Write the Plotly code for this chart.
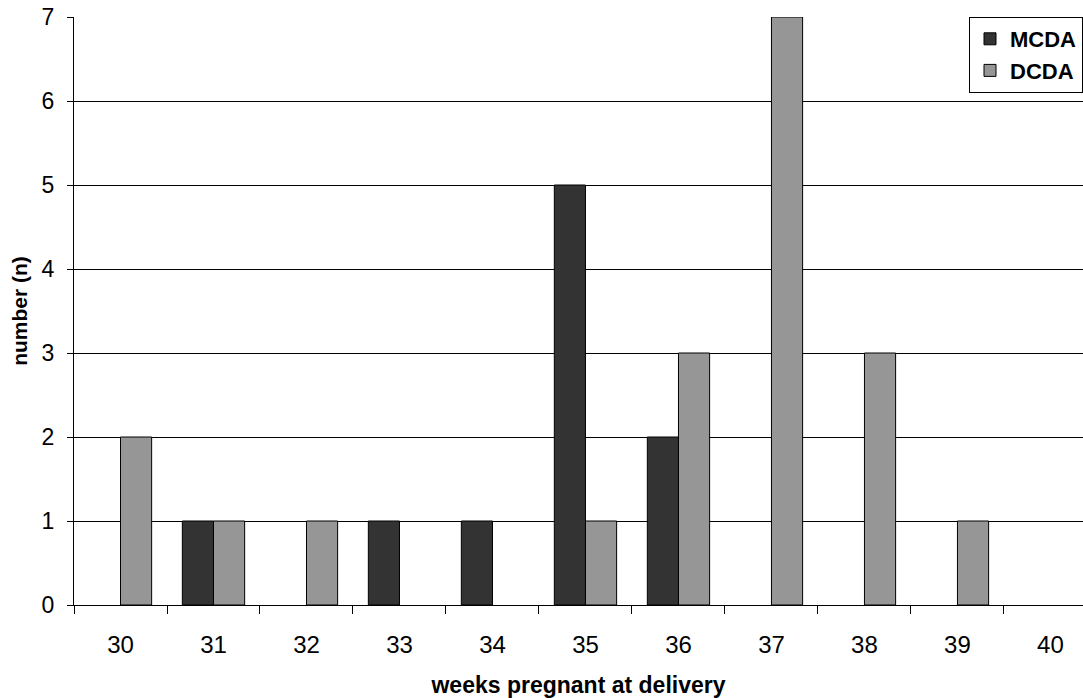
import plotly.graph_objects as go

weeks = ["30", "31", "32", "33", "34", "35", "36", "37", "38", "39", "40"]
mcda = [0, 1, 0, 1, 1, 5, 2, 0, 0, 0, 0]
dcda = [2, 1, 1, 0, 0, 1, 3, 7, 3, 1, 0]

def nz(vals):
    return [v if v != 0 else None for v in vals]

fig = go.Figure()
fig.add_trace(go.Bar(name="MCDA", x=weeks, y=nz(mcda),
                     marker=dict(color="#333333", line=dict(color="#000000", width=1))))
fig.add_trace(go.Bar(name="DCDA", x=weeks, y=nz(dcda),
                     marker=dict(color="#969696", line=dict(color="#000000", width=1))))

font = "Liberation Sans, Arial, sans-serif"
fig.update_layout(
    width=1083, height=698,
    margin=dict(l=74, r=0, t=17, b=93),
    paper_bgcolor="white", plot_bgcolor="white",
    barmode="group", bargap=0.33, bargroupgap=0,
    font=dict(family=font, color="black", size=22),
    legend=dict(x=1, xanchor="right", y=1, yanchor="top",
                bordercolor="black", borderwidth=1, bgcolor="white",
                font=dict(size=22, family=font, weight="bold"),
                itemwidth=30, tracegroupgap=0),
    xaxis=dict(type="category", range=[-0.5, 10.35], automargin=False,
               showline=True, linecolor="black", linewidth=1,
               ticks="outside", ticklen=8, tickcolor="black", tickson="boundaries",
               ticklabelstandoff=18, tickfont=dict(size=24),
               showgrid=False,
               title=dict(text="<b>weeks pregnant at delivery</b>", font=dict(size=23), standoff=26)),
    yaxis=dict(range=[0, 7], dtick=1, showline=True, linecolor="black", linewidth=1,
               automargin=False,
               ticks="outside", ticklen=6, tickcolor="black", ticklabelstandoff=8,
               tickfont=dict(size=23),
               showgrid=True, gridcolor="black", gridwidth=1, zeroline=False,
               title=dict(text="<b>number (n)</b>", font=dict(size=21), standoff=8)),
)
fig.write_html("out.html", post_script="document.body.style.margin='0px';",
               config={"displayModeBar": False})
